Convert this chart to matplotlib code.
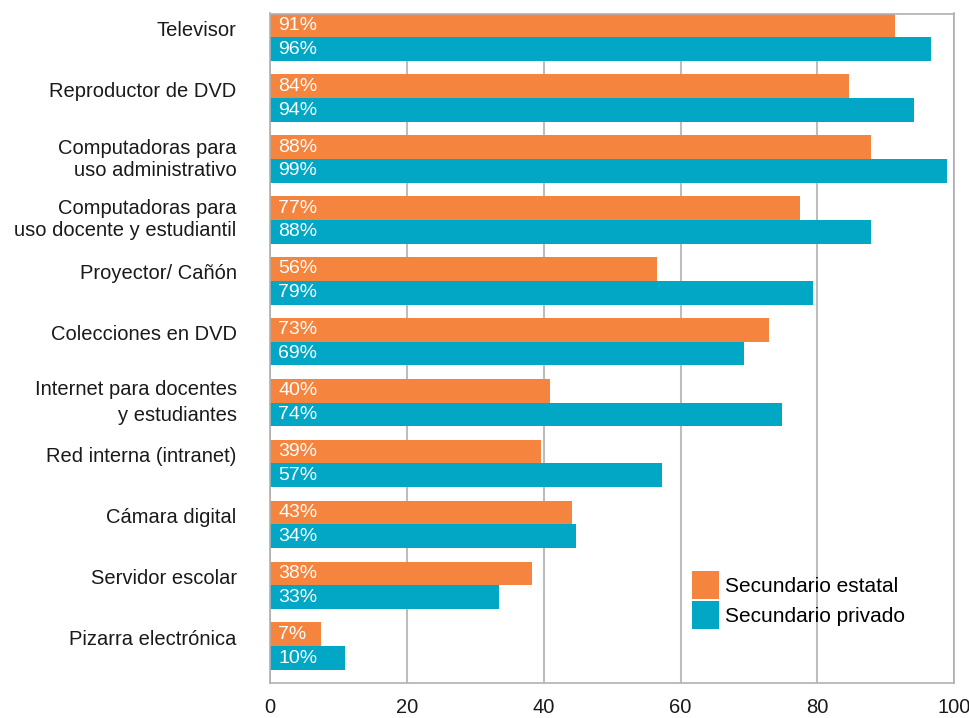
import matplotlib.pyplot as plt
import numpy as np

plt.rcParams['font.family'] = ['Liberation Sans', 'DejaVu Sans']

# datos
categorias = ['Televisor', 'Reproductor de DVD', 'Computadoras para\nuso administrativo',
              'Computadoras para\nuso docente y estudiantil', 'Proyector/ Cañón',
              'Colecciones en DVD', 'Internet para docentes\ny estudiantes',
              'Red interna (intranet)', 'Cámara digital', 'Servidor escolar',
              'Pizarra electrónica']
estatal = [91.3, 84.6, 87.9, 77.4, 56.6, 72.9, 40.9, 39.6, 44.1, 38.3, 7.5]
privado = [96.6, 94.1, 99.0, 87.9, 79.3, 69.3, 74.8, 57.3, 44.7, 33.5, 10.9]
etiq_estatal = ['91%', '84%', '88%', '77%', '56%', '73%', '40%', '39%', '43%', '38%', '7%']
etiq_privado = ['96%', '94%', '99%', '88%', '79%', '69%', '74%', '57%', '34%', '33%', '10%']

naranja = '#F5843F'
azul = '#02A7C5'
gris = '#BDBDBD'

fig = plt.figure(figsize=(9.7, 7.18), dpi=100)
ax = fig.add_axes([270 / 970, 1 - 682.7 / 718, (954.3 - 270) / 970, 669.2 / 718])

y = np.arange(len(categorias))
h = 0.39
b1 = ax.barh(y - h / 2, estatal, height=h, color=naranja, label='Secundario estatal')
b2 = ax.barh(y + h / 2, privado, height=h, color=azul, label='Secundario privado')

for barras, textos in [(b1, etiq_estatal), (b2, etiq_privado)]:
    for rect, t in zip(barras, textos):
        ax.annotate(t, (0, rect.get_y() + rect.get_height() / 2), xytext=(6, 0),
                    textcoords='offset points', ha='left', va='center',
                    color='white', fontsize=14)

# etiquetas de categorías
for i, cat in enumerate(categorias):
    dy = 0 if '\n' in cat else 5
    ls = 1.45 if cat.startswith('Internet') else 1.2
    ax.annotate(cat, (0, i), xycoords=('axes fraction', 'data'), xytext=(-24, dy),
                textcoords='offset points', ha='right', va='center',
                fontsize=14.5, color='#1a1a1a', linespacing=ls)

ax.set_ylim(len(categorias) - 1 + h + 0.21, -h)
ax.set_xlim(0, 100)
ax.set_xticks([0, 20, 40, 60, 80, 100])
ax.set_yticks([])
ax.tick_params(axis='x', length=0, labelsize=14.5, pad=11, colors='#1a1a1a')
ax.grid(axis='x', color=gris, linewidth=1.5)
ax.set_axisbelow(True)
for s in ax.spines.values():
    s.set_color('#B0B0B0')
    s.set_linewidth(1.2)

ax.legend(loc='upper left', bbox_to_anchor=(0.617, 0.167), frameon=False,
          fontsize=15, handlelength=1.3, handleheight=1.7, labelspacing=0.1,
          handletextpad=0.25, borderpad=0, borderaxespad=0)

plt.savefig('out.png', dpi=100)
plt.close()
